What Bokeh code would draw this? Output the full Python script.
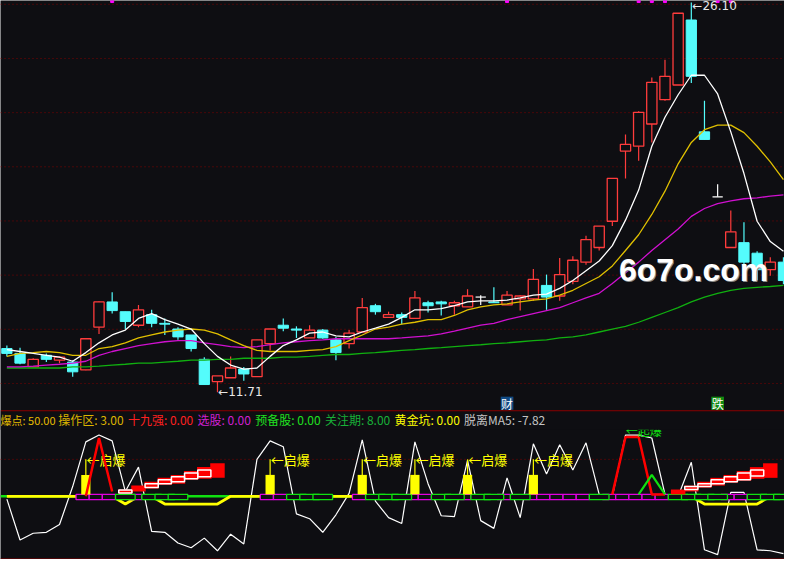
from bokeh.plotting import figure
from bokeh.models import Range1d
from bokeh.core.properties import value
from bokeh.embed import file_html
from bokeh.resources import INLINE

BG = "#0e0e12"
UP = "#ff3c3c"
DOWN = "#54fcfc"
CJK = value("Noto Sans CJK SC")

# K-line data (one entry per day)
opens = [13.32, 13.14, 12.64, 13.07, 12.89, 12.82, 12.53, 14.11, 15.04, 14.68,
         14.18, 14.57, 14.25, 14.04, 13.82, 12.92, 12.10, 12.24, 12.56, 12.28,
         13.50, 14.18, 14.04, 13.71, 14.00, 13.64, 13.50, 13.93, 14.90, 14.47,
         14.57, 14.43, 15.01, 15.04, 14.90, 14.86, 15.22, 15.04, 14.93, 15.15,
         15.15, 15.65, 15.26, 15.80, 16.51, 17.05, 18.02, 20.61, 20.79, 21.61,
         22.51, 23.05, 25.45, 21.32, 18.92, 17.05, 17.23, 16.84, 16.23, 16.51]
highs = [13.43, 13.35, 12.96, 13.14, 13.03, 12.89, 13.70, 15.06, 15.40, 14.68,
         14.93, 14.75, 14.43, 14.11, 13.82, 13.00, 12.31, 13.03, 12.64, 13.64,
         14.04, 14.43, 14.14, 14.18, 14.04, 13.75, 14.00, 15.19, 14.97, 14.68,
         14.65, 15.44, 15.08, 15.08, 15.08, 15.51, 15.29, 15.58, 15.44, 15.29,
         16.26, 16.05, 16.66, 16.73, 17.48, 17.84, 19.60, 21.22, 22.08, 23.33,
         23.98, 25.70, 26.10, 22.47, 19.39, 18.42, 17.98, 16.91, 16.69, 16.69]
lows = [13.03, 12.74, 12.63, 12.82, 12.78, 12.28, 12.52, 13.86, 14.61, 14.04,
        14.11, 14.11, 13.82, 13.64, 13.21, 11.99, 11.71, 12.24, 12.13, 12.28,
        13.25, 13.96, 13.71, 13.71, 13.68, 12.89, 13.32, 13.93, 14.57, 14.47,
        14.22, 14.43, 14.65, 14.54, 14.57, 14.86, 14.93, 15.01, 14.93, 14.72,
        15.08, 14.75, 15.08, 15.69, 16.41, 16.94, 17.84, 19.60, 20.25, 20.93,
        22.47, 23.05, 23.12, 21.04, 18.92, 17.05, 16.23, 15.83, 16.01, 15.69]
closes = [13.14, 12.78, 12.92, 12.92, 13.00, 12.46, 13.68, 15.04, 14.72, 14.32,
          14.75, 14.25, 14.22, 13.75, 13.32, 11.99, 12.31, 12.60, 12.38, 13.64,
          14.04, 14.07, 14.00, 14.00, 13.71, 13.17, 13.89, 14.83, 14.68, 14.57,
          14.47, 15.19, 14.90, 14.97, 15.01, 15.26, 15.22, 15.01, 15.29, 15.26,
          15.87, 15.22, 16.05, 16.58, 17.34, 17.84, 19.60, 20.86, 22.04, 23.15,
          23.37, 25.70, 23.37, 21.04, 18.92, 17.63, 16.51, 16.23, 16.51, 15.83]

ma5 = [13.28, 13.21, 13.14, 13.07, 13.00, 12.85, 13.17, 13.53, 13.82, 14.00,
       14.43, 14.61, 14.39, 14.22, 14.04, 13.50, 13.03, 12.71, 12.56, 12.60,
       13.03, 13.43, 13.64, 13.89, 13.93, 13.79, 13.75, 13.93, 14.07, 14.22,
       14.47, 14.75, 14.75, 14.79, 14.90, 15.04, 15.08, 15.08, 15.11, 15.19,
       15.29, 15.33, 15.54, 15.83, 16.19, 16.55, 17.12, 18.06, 19.17, 20.79,
       21.86, 22.69, 23.41, 23.41, 22.72, 21.32, 19.78, 18.02, 17.27, 16.91]
ma10 = [13.03, 13.14, 13.17, 13.21, 13.17, 13.07, 13.07, 13.32, 13.39, 13.53,
        13.71, 13.82, 13.93, 14.00, 14.04, 14.00, 13.86, 13.64, 13.43, 13.25,
        13.21, 13.21, 13.21, 13.25, 13.28, 13.39, 13.61, 13.82, 14.04, 14.11,
        14.22, 14.29, 14.39, 14.39, 14.54, 14.75, 14.86, 14.93, 14.97, 15.04,
        15.11, 15.15, 15.29, 15.47, 15.72, 15.97, 16.37, 16.94, 17.52, 18.27,
        19.13, 20.14, 20.93, 21.40, 21.57, 21.57, 21.29, 20.79, 20.21, 19.56]
ma20 = [12.64, 12.64, 12.67, 12.71, 12.74, 12.78, 12.85, 13.07, 13.21, 13.32,
        13.43, 13.50, 13.57, 13.61, 13.61, 13.53, 13.46, 13.39, 13.35, 13.39,
        13.46, 13.53, 13.57, 13.61, 13.64, 13.68, 13.68, 13.68, 13.68, 13.68,
        13.71, 13.75, 13.79, 13.86, 13.96, 14.07, 14.18, 14.25, 14.39, 14.50,
        14.61, 14.72, 14.83, 15.01, 15.19, 15.36, 15.72, 16.12, 16.51, 16.94,
        17.34, 17.73, 18.20, 18.49, 18.67, 18.77, 18.85, 18.88, 18.95, 18.99]
ma60 = [12.60, 12.60, 12.60, 12.60, 12.60, 12.64, 12.64, 12.67, 12.71, 12.74,
        12.78, 12.78, 12.82, 12.85, 12.89, 12.89, 12.92, 12.92, 12.96, 12.96,
        12.96, 13.00, 13.00, 13.03, 13.07, 13.10, 13.10, 13.14, 13.17, 13.21,
        13.25, 13.28, 13.32, 13.35, 13.39, 13.43, 13.46, 13.50, 13.53, 13.57,
        13.61, 13.64, 13.71, 13.75, 13.82, 13.93, 14.04, 14.14, 14.29, 14.47,
        14.65, 14.83, 15.04, 15.22, 15.36, 15.47, 15.54, 15.58, 15.61, 15.65]

price_grid = [12.03, 14.03, 16.03, 18.03, 20.03, 22.03, 24.03, 26.03]
top_marks = [8, 38, 48, 49, 50, 54, 55]
lo_idx, hi_idx = 16, 52
cai_idx, die_idx = 38, 54

# indicator panel
osc = [-3.9, -59.2, -50.0, -48.7, -38.2, 13.2, 73.7, 82.9, 75.0, 6.6,
       39.5, -47.4, -48.7, -63.2, -69.7, -56.6, -73.7, -51.3, -64.5, 50.0,
       75.0, 67.1, -23.7, -30.3, -48.7, -25.0, 3.9, 76.3, -6.6, -28.9,
       -36.8, 73.7, 17.1, -26.3, -27.6, 48.7, -32.9, -43.4, 25.0, -28.9,
       71.1, 30.3, 69.7, 35.5, 72.4, 2.6, 0.0, 82.9, 82.9, 78.9,
       2.6, 0.0, 46.1, -72.4, -78.9, 5.3, 5.3, -72.4, -73.7, -77.6]
yel = [0, 0, 0, 0, 0, 0, 0, 0, 0, -10.5, 0, 0, -10.5, -10.5, -10.5, -10.5, -10.5, 0, 0, 0,
       0, 0, 0, 0, 0, 0, 0, 0, 0, 0, 0, 0, 0, 0, 0, 0, 0, 0, 0, 0,
       0, 0, 0, 0, 0, 0, 0, 0, 0, 0, 0, 0, 0, -10.5, -10.5, -10.5, -10.5, -10.5, 0, 0]
mag_idx = [6, 7, 8, 10, 20, 21, 27, 31, 32, 35, 38, 40, 41, 42, 43, 44, 46, 47, 48, 49, 50, 55, 56]
grn_idx = [9, 11, 12, 13, 22, 23, 24, 28, 29, 30, 33, 34, 36, 37, 39, 45, 51, 52, 53, 54, 57, 58, 59]
bar_idx = [6, 20, 27, 31, 35, 40]
bar_val = [29, 29, 29, 29, 29, 29]
stair_idx = [9, 10, 11, 12, 13, 14, 15, 16, 51, 52, 53, 54, 55, 56, 57, 58]
stair_lo = [3.9, 6.6, 10.5, 15.8, 17.1, 22.4, 23.7, 25.0, 2.6, 6.6, 11.8, 14.5, 18.4, 21.1, 23.7, 25.0]
stair_hi = [9.2, 14.5, 19.7, 25.0, 28.9, 34.2, 39.5, 44.7, 9.2, 14.5, 19.7, 25.0, 28.9, 34.2, 39.5, 44.7]
inner_idx = [9, 11, 12, 13, 14, 15, 52, 53, 54, 55, 56, 57]
inner_lo = [4.6, 11.8, 17.1, 19.7, 23.7, 26.3, 9.2, 13.2, 17.1, 19.7, 22.4, 27.6]
inner_hi = [8.6, 17.1, 22.4, 26.3, 31.6, 35.5, 13.2, 17.1, 22.4, 26.3, 31.6, 35.5]
red1_idx = [6, 7, 8]
red1_val = [0, 79.0, 6.6]
red2_idx = [46, 47, 48, 49, 50]
red2_val = [2.6, 80.3, 80.3, 2.6, 2.6]
grn_line_idx = [48, 49, 50]
grn_line_val = [2.6, 29.0, 2.6]

hdr_names = ["爆点", "操作区", "十九强", "选股", "预备股", "关注期", "黄金坑", "脱离MA5"]
hdr_vals = [50.00, 3.00, 0.00, 0.00, 0.00, 8.00, 0.00, -7.82]
hdr_colors = ["#e6bc00", "#dcb400", "#ff2020", "#d020d0", "#20e020", "#18b038", "#ffff00", "#c4c4c4"]
hdr_x = [0, 59, 130, 201, 260, 331, 402, 473]
hdr_size = ["11px", "12px", "12px", "12px", "12px", "12px", "12px", "12px"]

idx = list(range(len(opens)))
X0, X1 = -0.484, 59.08


def Y(py):
    # reference-pixel row -> overlay range value (rows counted downward)
    return -py


p = figure(width=784, height=559, x_range=Range1d(X0, X1), y_range=Range1d(5.53, 26.17),
           x_axis_location=None, y_axis_location=None, output_backend="svg",
           toolbar_location=None, min_border=0, background_fill_color=BG,
           border_fill_color=BG, outline_line_color=None)
p.grid.visible = False
p.extra_y_ranges = {"ind": Range1d(-85.53, 671.05), "py": Range1d(-575, 0)}
p.extra_x_ranges = {"px": Range1d(0, 800)}

# main panel grid
p.segment(x0=[X0] * len(price_grid), x1=[X1] * len(price_grid), y0=price_grid, y1=price_grid,
          line_color="#800000", line_dash="1 3", line_width=1)

# candles
cols = [UP if c > o else (DOWN if c < o else "#ffffff") for o, c in zip(opens, closes)]
p.segment(x0=idx, x1=idx, y0=lows, y1=highs, line_color=cols, line_width=1.2)
up = [i for i in idx if closes[i] > opens[i]]
dn = [i for i in idx if closes[i] < opens[i]]
fl = [i for i in idx if closes[i] == opens[i]]
p.vbar(x=up, width=0.78, bottom=[opens[i] for i in up], top=[closes[i] for i in up],
       fill_color=BG, line_color=UP, line_width=1.3)
p.vbar(x=dn, width=0.78, bottom=[closes[i] for i in dn], top=[opens[i] for i in dn],
       fill_color=DOWN, line_color=DOWN, line_width=1)
p.segment(x0=[i - 0.39 for i in fl], x1=[i + 0.39 for i in fl],
          y0=[opens[i] for i in fl], y1=[opens[i] for i in fl], line_color="#ffffff", line_width=1.2)

# moving averages
p.line(idx, ma60, line_color="#10b010", line_width=1.3)
p.line(idx, ma20, line_color="#d010d0", line_width=1.3)
p.line(idx, ma10, line_color="#e0c000", line_width=1.3)
p.line(idx, ma5, line_color="#ffffff", line_width=1.3)

p.scatter(x=top_marks, y=[26.15] * len(top_marks), marker="square", size=3, color="#ff00ff")

p.text(x=[lo_idx + 0.05], y=[lows[lo_idx]], text=["←%.2f" % lows[lo_idx]],
       text_font=value("DejaVu Sans"), text_font_size="12px", text_color="#e8e8e8",
       text_align="left", text_baseline="middle")
p.text(x=[hi_idx + 0.08], y=[highs[hi_idx] - 0.15], text=["←%.2f" % highs[hi_idx]],
       text_font=value("DejaVu Sans"), text_font_size="12px", text_color="#e8e8e8",
       text_align="left", text_baseline="middle")

# watermark
p.text(x=[632], y=[Y(278)], text=["6o7o.com"], x_range_name="px", y_range_name="py",
       text_font=value("Liberation Sans"), text_font_style="bold", text_font_size="32px",
       text_color="#8a8a8a", text_align="left", text_baseline="alphabetic")
p.text(x=[631], y=[Y(277)], text=["6o7o.com"], x_range_name="px", y_range_name="py",
       text_font=value("Liberation Sans"), text_font_style="bold", text_font_size="32px",
       text_color="#ffffff", text_align="left", text_baseline="alphabetic")

# 财 / 跌 tags
tag_idx = [cai_idx, die_idx]
p.quad(left=[i - 0.48 for i in tag_idx], right=[i + 0.48 for i in tag_idx], top=[Y(407.5)] * 2,
       bottom=[Y(421)] * 2, y_range_name="py", fill_color=["#114a84", "#128a12"], line_color=None)
p.text(x=tag_idx, y=[Y(414.5)] * 2, text=["财", "跌"], y_range_name="py", text_font=CJK,
       text_font_size="12px", text_color="#ffffff", text_align="center", text_baseline="middle")

# ---- indicator panel ----
p.segment(x0=[X0], x1=[X1], y0=[50], y1=[50], y_range_name="ind",
          line_color="#800000", line_dash="1 3", line_width=1)
p.line(idx, osc, y_range_name="ind", line_color="#ffffff", line_width=1.2)
p.segment(x0=[X0], x1=[X1], y0=[0], y1=[0], y_range_name="ind", line_color="#10e010", line_width=2.5)
p.line(idx, yel, y_range_name="ind", line_color="#ffff00", line_width=2.8)

p.quad(left=[i - 0.745 for i in mag_idx], right=[i + 0.253 for i in mag_idx],
       bottom=[-4.6] * len(mag_idx), top=[2.6] * len(mag_idx), y_range_name="ind",
       fill_color=BG, line_color="#e000e0", line_width=1.3)
p.quad(left=[i - 0.745 for i in grn_idx], right=[i + 0.745 for i in grn_idx],
       bottom=[-4.6] * len(grn_idx), top=[2.6] * len(grn_idx), y_range_name="ind",
       fill_color=BG, line_color="#10e010", line_width=1.3)

p.vbar(x=bar_idx, width=0.7, bottom=[2.6] * len(bar_idx), top=bar_val, y_range_name="ind",
       fill_color="#ffff00", line_color=None)
p.segment(x0=bar_idx, x1=bar_idx, y0=bar_val, y1=[50] * len(bar_idx), y_range_name="ind",
          line_color="#ffff00", line_width=1.2)
p.text(x=[i + 0.05 for i in bar_idx], y=[50] * len(bar_idx), text=["←启爆"] * len(bar_idx),
       y_range_name="ind", text_font=CJK, text_font_size="13px", text_color="#ffff00",
       text_align="left", text_baseline="middle")

p.quad(left=[i - 0.55 for i in stair_idx], right=[i + 0.55 for i in stair_idx],
       bottom=stair_lo, top=stair_hi, y_range_name="ind", fill_color="#ff0000", line_color=None)
p.quad(left=[i - 0.5 for i in inner_idx], right=[i + 0.5 for i in inner_idx],
       bottom=inner_lo, top=inner_hi, y_range_name="ind", fill_color=None,
       line_color="#ffffff", line_width=1.5)

p.line(red1_idx, red1_val, y_range_name="ind", line_color="#ff0000", line_width=2.5)
p.line(red2_idx, red2_val, y_range_name="ind", line_color="#ff0000", line_width=2.5)
p.line(grn_line_idx, grn_line_val, y_range_name="ind", line_color="#10e010", line_width=2.2)

p.text(x=[638], y=[Y(442)], text=["←起爆"], x_range_name="px", y_range_name="py",
       text_font=CJK, text_font_size="12px", text_color="#10e010",
       text_align="left", text_baseline="middle")

# header strip of the indicator panel
p.quad(left=[0], right=[800], top=[Y(422.5)], bottom=[Y(441.5)], x_range_name="px",
       y_range_name="py", fill_color=BG, line_color=None)
p.segment(x0=[0, 0], x1=[800, 800], y0=[Y(422), Y(574.5)], y1=[Y(422), Y(574.5)],
          x_range_name="px", y_range_name="py", line_color="#8b0000", line_width=1.2)
p.text(x=hdr_x, y=[Y(431)] * len(hdr_x),
       text=["%s: %.2f" % (n, v) for n, v in zip(hdr_names, hdr_vals)],
       x_range_name="px", y_range_name="py", text_font=CJK, text_font_size=hdr_size,
       text_color=hdr_colors, text_align="left", text_baseline="middle")

open("out.html", "w").write(file_html(p, INLINE))
